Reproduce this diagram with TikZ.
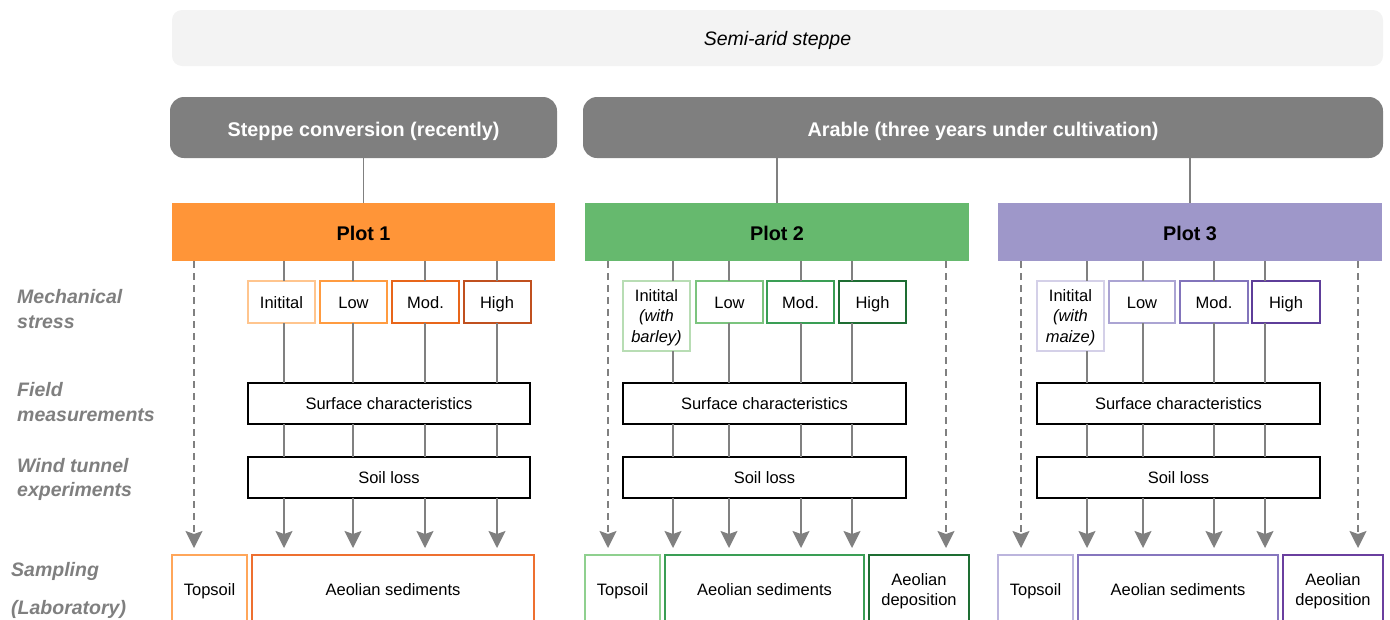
\documentclass[tikz,border=0pt]{standalone}
\usepackage{fontspec}
\setmainfont{Liberation Sans}
\usetikzlibrary{arrows.meta}
\definecolor{lightbg}{HTML}{F3F3F3}
\definecolor{darkgray}{HTML}{7F7F7F}
\definecolor{linegray}{HTML}{808080}
\definecolor{plotA}{HTML}{FF9538}
\definecolor{plotB}{HTML}{66B96E}
\definecolor{plotC}{HTML}{9E97C9}
\definecolor{oA}{HTML}{FFC58E}
\definecolor{oB}{HTML}{FF9B40}
\definecolor{oC}{HTML}{E8661A}
\definecolor{oD}{HTML}{C0501F}
\definecolor{oT}{HTML}{FFA65A}
\definecolor{oS}{HTML}{EE7030}
\definecolor{gA}{HTML}{B8DDB4}
\definecolor{gB}{HTML}{7BC47E}
\definecolor{gC}{HTML}{3A9E55}
\definecolor{gD}{HTML}{1E6D33}
\definecolor{gT}{HTML}{8FD08F}
\definecolor{vA}{HTML}{D4D0E8}
\definecolor{vB}{HTML}{ABA4D3}
\definecolor{vC}{HTML}{8274BB}
\definecolor{vD}{HTML}{5E3E99}
\definecolor{vT}{HTML}{BCB5DD}
\definecolor{vS}{HTML}{8676BE}
\definecolor{vE}{HTML}{6A3F9F}
\newcommand{\bx}[7]{\node[#6, minimum width=#4pt, minimum height=#5pt] (#1) at (#2,#3) {#7};}
\tikzset{
  base/.style={rectangle, inner sep=0pt, outer sep=0pt, align=center, font=\fontsize{16.5}{20.5}\selectfont},
  one/.style={text height=12.5pt, text depth=0pt},
  multi/.style={text depth=-5pt},
  titlebox/.style={base, fill=lightbg, rounded corners=10pt, text height=14pt, text depth=0pt, font=\fontsize{19.5}{22}\selectfont\itshape},
  groupbox/.style={base, fill=darkgray, rounded corners=14pt, text=white, text height=18pt, text depth=0pt, font=\fontsize{19.8}{22}\selectfont\bfseries},
  plotbox/.style={base, fill=#1, text height=16pt, text depth=0pt, font=\fontsize{19.8}{22}\selectfont\bfseries},
  cbox/.style={base, draw=#1, fill=white, line width=2pt},
  kbox/.style={base, one, draw=black, fill=white, line width=1.4pt},
  conn/.style={draw=linegray, line width=1.5pt},
  arr/.style={conn, -{Stealth[length=17pt, width=17pt, inset=3pt]}, shorten >=7pt},
  darr/.style={arr, dash pattern=on 7pt off 5pt},
  sidelab/.style={anchor=west, align=left, text=darkgray, inner sep=0pt, font=\fontsize{19.5}{24.5}\selectfont\bfseries\itshape}
}
\begin{document}
\begin{tikzpicture}[x=1pt, y=-1pt]
\useasboundingbox (0,0) rectangle (1390,619);
\clip (0,0) rectangle (1390,619);
% title and groups
\bx{semi}{777.5}{38}{1211}{56}{titlebox}{Semi-arid steppe}
\bx{conv}{363.5}{127.5}{387}{61}{groupbox}{Steppe conversion (recently)}
\bx{arab}{983}{127.5}{800}{61}{groupbox}{Arable (three years under cultivation)}
% plots
\bx{p1}{363.5}{232}{383}{58}{plotbox=plotA}{Plot 1}
\bx{p2}{777}{232}{384}{58}{plotbox=plotB}{Plot 2}
\bx{p3}{1190}{232}{384}{58}{plotbox=plotC}{Plot 3}
% side labels
\node[sidelab] (lab1) at (17,309) {Mechanical\\stress};
\node[sidelab] (lab2) at (17,402) {Field\\measurements};
\node[sidelab] (lab3) at (17,479.5) {Wind tunnel\\experiments};
\node[sidelab] (lab4) at (11,571) {Sampling};
\node[sidelab] (lab5) at (11,609) {(Laboratory)};
% stress boxes plot 1
\bx{s11}{281.5}{302}{67}{42}{cbox=oA,one}{Initital}
\bx{s12}{353.5}{302}{67}{42}{cbox=oB,one}{Low}
\bx{s13}{425.5}{302}{67}{42}{cbox=oC,one}{Mod.}
\bx{s14}{497}{302}{67}{42}{cbox=oD,one}{High}
% stress boxes plot 2
\bx{s21}{656.5}{316}{67}{70}{cbox=gA,multi}{Initital\\\textit{(with}\\\textit{barley)}}
\bx{s22}{729.5}{302}{67}{42}{cbox=gB,one}{Low}
\bx{s23}{800.5}{302}{67}{42}{cbox=gC,one}{Mod.}
\bx{s24}{872.5}{302}{67}{42}{cbox=gD,one}{High}
% stress boxes plot 3
\bx{s31}{1070.5}{316}{67}{70}{cbox=vA,multi}{Initital\\\textit{(with}\\\textit{maize)}}
\bx{s32}{1142}{302}{66}{42}{cbox=vB,one}{Low}
\bx{s33}{1214}{302}{68}{42}{cbox=vC,one}{Mod.}
\bx{s34}{1286}{302}{68}{42}{cbox=vD,one}{High}
% surface & soil loss
\bx{sc1}{389}{403.5}{282}{41}{kbox}{Surface characteristics}
\bx{sc2}{764.5}{403.5}{283}{41}{kbox}{Surface characteristics}
\bx{sc3}{1178.5}{403.5}{283}{41}{kbox}{Surface characteristics}
\bx{sl1}{389}{477.5}{282}{41}{kbox}{Soil loss}
\bx{sl2}{764.5}{477.5}{283}{41}{kbox}{Soil loss}
\bx{sl3}{1178.5}{477.5}{283}{41}{kbox}{Soil loss}
% sampling boxes
\bx{t1}{209.5}{589.5}{75}{69}{cbox=oT,one}{Topsoil}
\bx{a1}{393}{589.5}{282}{69}{cbox=oS,one}{Aeolian sediments}
\bx{t2}{622.5}{589.5}{75}{69}{cbox=gT,one}{Topsoil}
\bx{a2}{764.5}{589.5}{199}{69}{cbox=gC,one}{Aeolian sediments}
\bx{d2}{919}{589.5}{100}{69}{cbox=gD,multi}{Aeolian\\deposition}
\bx{t3}{1035.5}{589.5}{75}{69}{cbox=vT,one}{Topsoil}
\bx{a3}{1178}{589.5}{200}{69}{cbox=vS,one}{Aeolian sediments}
\bx{d3}{1333}{589.5}{100}{69}{cbox=vE,multi}{Aeolian\\deposition}
% line x positions
\coordinate (x11) at (284,0); \coordinate (x12) at (353,0);
\coordinate (x13) at (425,0); \coordinate (x14) at (497,0);
\coordinate (x21) at (673,0); \coordinate (x22) at (729,0);
\coordinate (x23) at (801,0); \coordinate (x24) at (852,0);
\coordinate (x31) at (1087,0); \coordinate (x32) at (1143,0);
\coordinate (x33) at (1214,0); \coordinate (x34) at (1265,0);
\coordinate (dd1) at (194,0);
\coordinate (dd2) at (608,0); \coordinate (de2) at (946,0);
\coordinate (dd3) at (1021,0); \coordinate (de3) at (1358,0);
% group connectors
\draw[conn] (conv.south) -- (p1.north);
\draw[conn] (arab.south -| p2.north) -- (p2.north);
\draw[conn] (arab.south -| p3.north) -- (p3.north);
% vertical chains
\foreach \p/\q in {1/1,1/2,1/3,1/4,2/1,2/2,2/3,2/4,3/1,3/2,3/3,3/4}{
  \draw[conn] (p\p.south -| x\p\q) -- (s\p\q.north -| x\p\q);
  \draw[conn] (s\p\q.south -| x\p\q) -- (sc\p.north -| x\p\q);
  \draw[conn] (sc\p.south -| x\p\q) -- (sl\p.north -| x\p\q);
  \draw[arr] (sl\p.south -| x\p\q) -- (a\p.north -| x\p\q);
}
% dashed arrows
\draw[darr] (p1.south -| dd1) -- (t1.north -| dd1);
\draw[darr] (p2.south -| dd2) -- (t2.north -| dd2);
\draw[darr] (p2.south -| de2) -- (d2.north -| de2);
\draw[darr] (p3.south -| dd3) -- (t3.north -| dd3);
\draw[darr] (p3.south -| de3) -- (d3.north -| de3);
\end{tikzpicture}
\end{document}
